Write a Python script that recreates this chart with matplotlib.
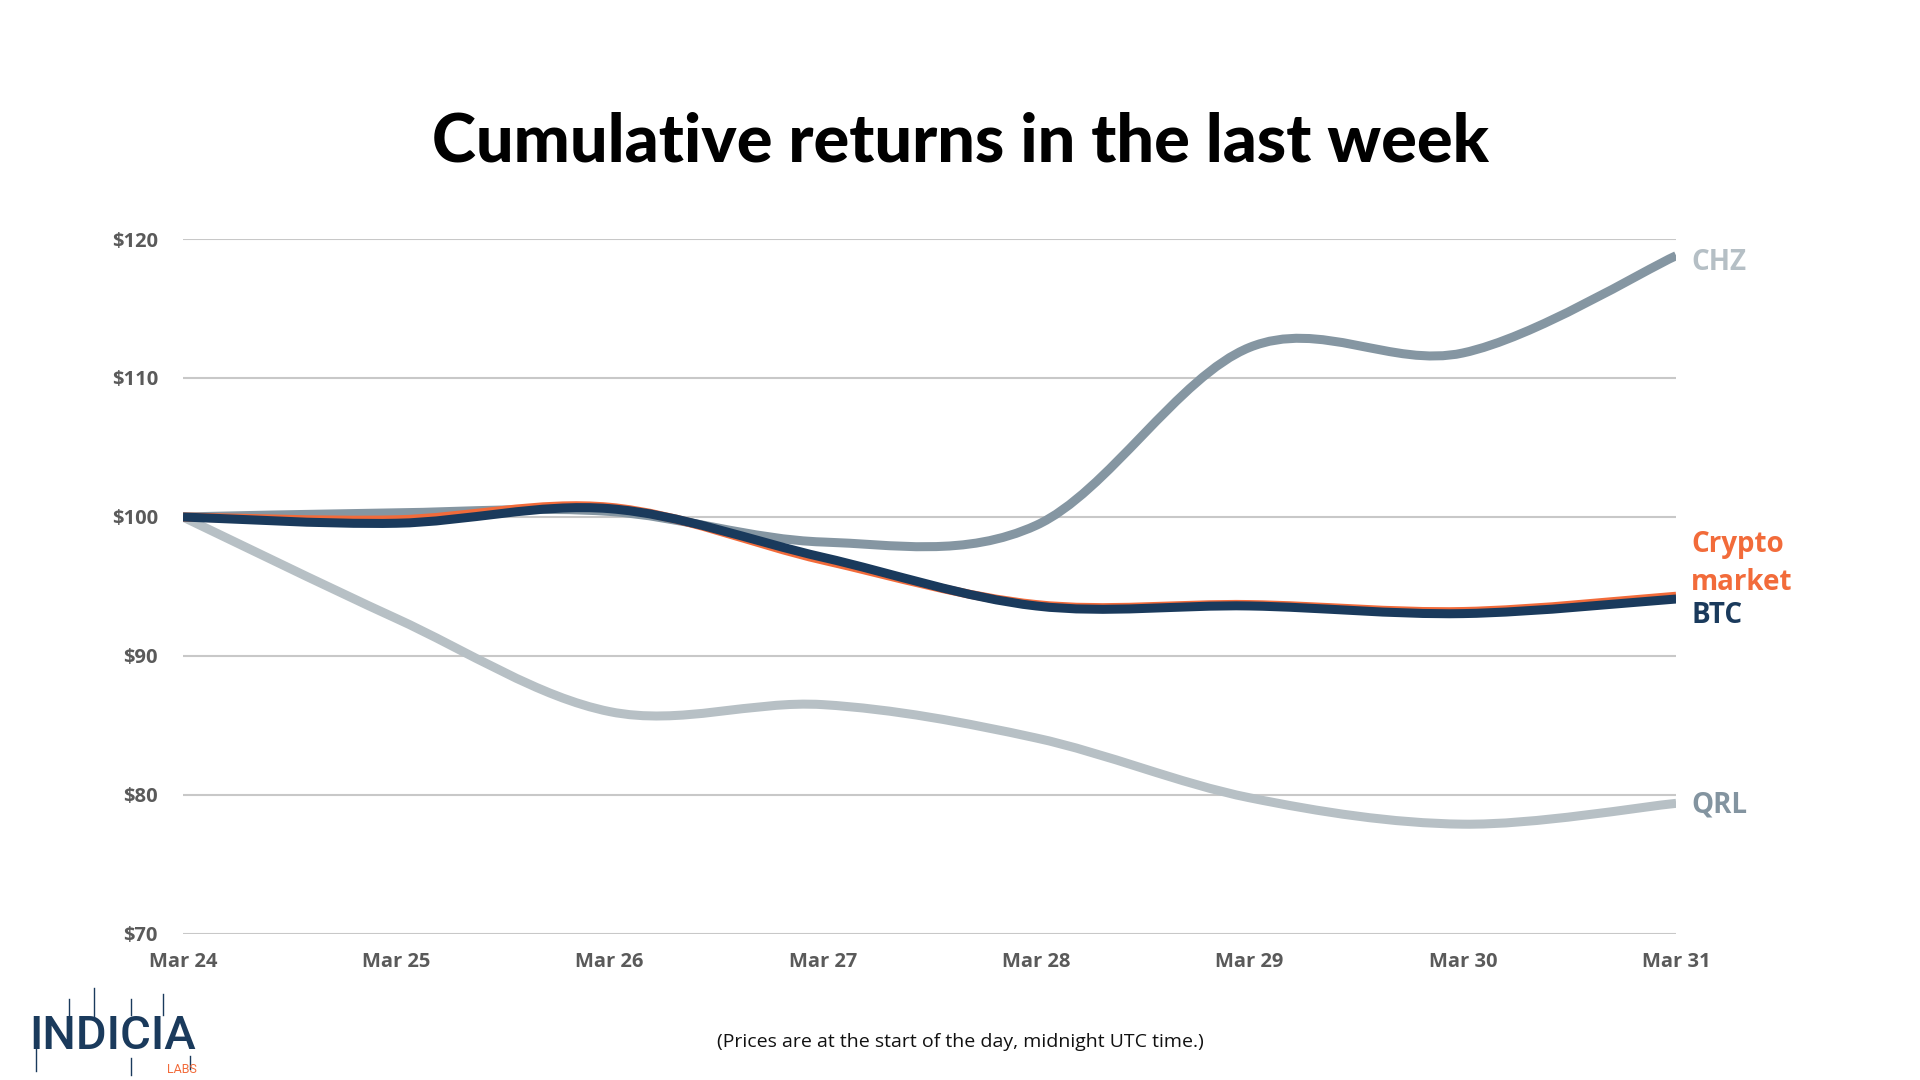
import numpy as np
import matplotlib
matplotlib.use('Agg')
from matplotlib import pyplot as plt
from matplotlib.path import Path
from matplotlib.patches import PathPatch
from matplotlib.lines import Line2D

days = ['Mar 24', 'Mar 25', 'Mar 26', 'Mar 27', 'Mar 28', 'Mar 29', 'Mar 30', 'Mar 31']
chz = [100.0, 100.3, 100.4, 98.2, 99.4, 112.2, 111.8, 118.8]
qrl = [100.0, 92.7, 86.0, 86.5, 84.1, 79.8, 77.9, 79.4]
crypto = [100.0, 99.8, 100.7, 96.9, 93.7, 93.7, 93.2, 94.3]
btc = [100.0, 99.55, 100.6, 97.1, 93.6, 93.6, 93.05, 94.1]
yticks = [70, 80, 90, 100, 110, 120]

navy = '#1a3a5c'
orange = '#f26b3a'


def smooth_path(xs, ys):
    # catmull-rom curve through the points, drawn as bezier segments
    pts = np.column_stack([xs, ys]).astype(float)
    ext = np.vstack([pts[0], pts, pts[-1]])
    verts = [pts[0]]
    codes = [Path.MOVETO]
    for i in range(len(pts) - 1):
        p0, p1, p2, p3 = ext[i], ext[i + 1], ext[i + 2], ext[i + 3]
        c1 = p1 + (p2 - p0) / 6
        c2 = p2 - (p3 - p1) / 6
        verts += [c1, c2, p2]
        codes += [Path.CURVE4] * 3
    return Path(verts, codes)


fig = plt.figure(figsize=(19.2, 10.8), dpi=100)
ax = fig.add_axes([0.0953, 0.1352, 0.873 - 0.0953, 0.7787 - 0.1352])

x = np.arange(len(days))
series = [
    (qrl, '#b7c0c5'),
    (chz, '#8596a2'),
    (crypto, orange),
    (btc, navy),
]
for vals, col in series:
    ax.add_patch(PathPatch(smooth_path(x, vals), facecolor='none', edgecolor=col,
                           lw=6.5, capstyle='butt', joinstyle='round', zorder=3))

ax.set_xlim(0, len(days) - 1)
ax.set_ylim(70, 120)
ax.set_yticks(yticks)
ax.set_yticklabels(['$%d' % v for v in yticks])
ax.set_xticks(x)
ax.set_xticklabels(days)
ax.grid(axis='y', color='#c8c8c8', lw=1.5, zorder=1)
for s in ax.spines.values():
    s.set_visible(False)
ax.tick_params(length=0, labelsize=14.5, labelcolor='#5a5a5a')
ax.tick_params(axis='y', pad=18)
ax.tick_params(axis='x', pad=13)
for lab in ax.get_xticklabels() + ax.get_yticklabels():
    lab.set_fontfamily(['Open Sans', 'DejaVu Sans'])
    lab.set_fontweight('bold')

# end labels
lx = len(days) - 1 + 0.07
lbl = dict(fontsize=20, fontweight='bold', family=['Open Sans', 'DejaVu Sans'],
           va='center', ha='left', clip_on=False)
ax.text(lx, 118.3, 'CHZ', color='#b5bfc5', **lbl)
ax.text(lx, 98.0, 'Crypto', color=orange, **lbl)
ax.text(lx, 95.3, 'market', color=orange, **lbl)
ax.text(lx, 92.9, 'BTC', color=navy, **lbl)
ax.text(lx, 79.3, 'QRL', color='#8394a0', **lbl)

fig.text(0.5, 0.868, 'Cumulative returns in the last week', ha='center', va='center',
         fontsize=48, fontweight='black', family=['Lato', 'DejaVu Sans'], color='#000000')
fig.text(0.5, 0.035, '(Prices are at the start of the day, midnight UTC time.)',
         ha='center', va='center', fontsize=14, family=['Open Sans', 'DejaVu Sans'],
         color='#111111')

# logo
fig.text(0.015, 0.041, 'INDICIA', ha='left', va='center', fontsize=34,
         family=['Roboto', 'DejaVu Sans'], fontweight='medium', color=navy)
fig.text(0.087, 0.010, 'LABS', ha='left', va='center', fontsize=9,
         family=['Roboto', 'DejaVu Sans'], color=orange)
for px, y0, y1 in [(0.019, 0.008, 0.030), (0.036, 0.055, 0.075), (0.049, 0.058, 0.085),
                   (0.068, 0.005, 0.020), (0.068, 0.060, 0.075), (0.085, 0.060, 0.080),
                   (0.099, 0.010, 0.022)]:
    fig.add_artist(Line2D([px, px], [y0, y1], transform=fig.transFigure,
                          color=navy, lw=1.0))

fig.savefig('out.png', dpi=100, facecolor='white')
